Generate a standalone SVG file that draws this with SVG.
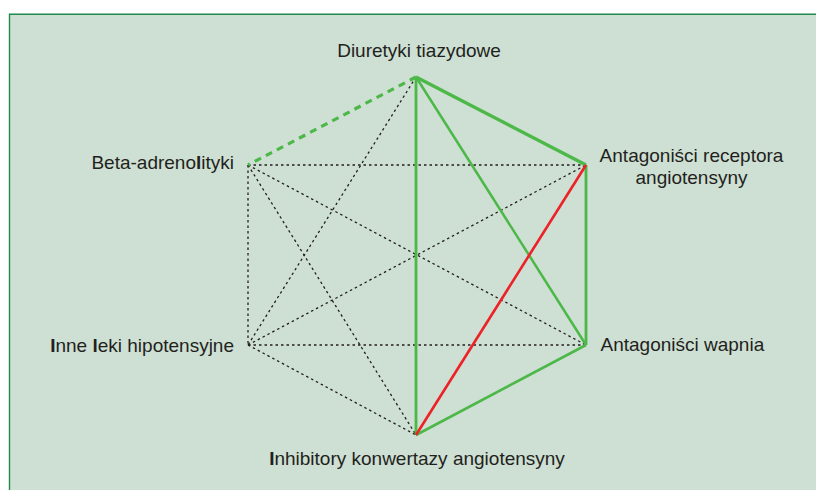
<svg xmlns="http://www.w3.org/2000/svg" width="816" height="490" viewBox="0 0 816 490">
<style>
.lbl{font-family:"Liberation Sans",Arial,sans-serif;font-size:19px;fill:#231f20}
.b{font-weight:bold}
.dot{stroke:#231f20;stroke-width:1.3;stroke-dasharray:2.5 3;fill:none}
.g{stroke:#4cb848;fill:none;stroke-linecap:butt}
.r{stroke:#ec2227;fill:none;stroke-width:2.6}
</style>
<rect x="0" y="0" width="816" height="490" fill="#ffffff"/>
<rect x="9" y="14" width="807" height="476" fill="#cedfd3"/>
<path d="M9.5,490 V14.2 H816" fill="none" stroke="#1f8a4c" stroke-width="1.4"/>
<g id="connectors">
<line class="dot" x1="248" y1="165" x2="586" y2="165"/>
<line class="dot" x1="248" y1="165" x2="248" y2="345"/>
<line class="dot" x1="248" y1="165" x2="586" y2="345"/>
<line class="dot" x1="248" y1="165" x2="416" y2="435"/>
<line class="dot" x1="416" y1="77" x2="248" y2="345"/>
<line class="dot" x1="248" y1="345" x2="586" y2="165"/>
<line class="dot" x1="248" y1="345" x2="586" y2="345"/>
<line class="dot" x1="248" y1="345" x2="416" y2="435"/>
<line class="g" x1="416" y1="77" x2="248" y2="165" stroke-width="3.2" stroke-dasharray="7 5.5"/>
<line class="g" x1="416" y1="77" x2="586" y2="165" stroke-width="3.3"/>
<line class="g" x1="416" y1="77" x2="586" y2="345" stroke-width="2.5"/>
<line class="g" x1="416" y1="77" x2="416" y2="435" stroke-width="2.8"/>
<line class="g" x1="586" y1="165" x2="586" y2="345" stroke-width="2.8"/>
<line class="g" x1="586" y1="345" x2="416" y2="435" stroke-width="2.6"/>
<line class="r" x1="586" y1="165" x2="416" y2="435"/>
</g>
<g id="diuretyki"><text class="lbl" x="419" y="57" text-anchor="middle">Diuretyki tiazydowe</text></g>
<g id="beta"><text class="lbl" x="234" y="169" text-anchor="end">Beta-adreno<tspan class="b">l</tspan>ityki</text></g>
<g id="arb"><text class="lbl" x="691.5" y="162" text-anchor="middle">Antagoniści receptora</text><text class="lbl" x="691.5" y="184" text-anchor="middle">angiotensyny</text></g>
<g id="inne"><text class="lbl" x="234" y="351.5" text-anchor="end"><tspan class="b">I</tspan>nne <tspan class="b">l</tspan>eki hipotensyjne</text></g>
<g id="wapnia"><text class="lbl" x="600.5" y="351" text-anchor="start">Antagoniści wapnia</text></g>
<g id="ace"><text class="lbl" x="417" y="465" text-anchor="middle"><tspan class="b">I</tspan>nhibitory konwertazy angiotensyny</text></g>
</svg>
